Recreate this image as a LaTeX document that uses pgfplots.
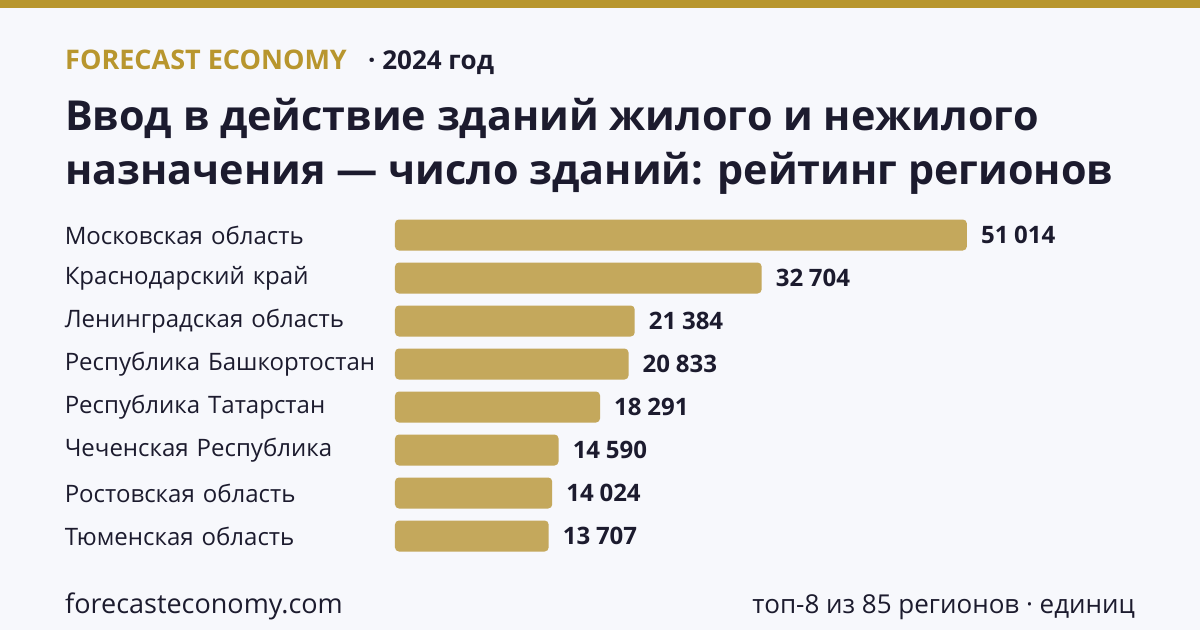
\documentclass[border=0pt]{standalone}
\usepackage{pgfplots}
\pgfplotsset{compat=1.18}
\usepackage{fontspec}
\setmainfont{Open Sans}
\definecolor{bg}{HTML}{F7F8FC}
\definecolor{gold}{HTML}{B8962E}
\definecolor{barc}{HTML}{C4A85C}
\definecolor{ink}{HTML}{1C1B2E}

\begin{document}
\begin{tikzpicture}[x=1pt,y=1pt]
\fill[bg] (0,0) rectangle (1200,630);
\useasboundingbox (0,0) rectangle (1200,630);
\fill[gold] (0,622) rectangle (1200,630);

% header
\node[anchor=base west, inner sep=0, text=gold, font=\fontsize{27}{32}\selectfont\bfseries] at (65,560) {FORECAST ECONOMY};
\node[anchor=base west, inner sep=0, text=ink, font=\fontsize{26}{32}\selectfont\bfseries] at (368,560) {· 2024 год};

% title
\node[anchor=base west, inner sep=0, text=ink, font=\fontsize{41.3}{50}\selectfont\bfseries] at (65,499) {Ввод в действие зданий жилого и нежилого};
\node[anchor=base west, inner sep=0, text=ink, font=\fontsize{41.3}{50}\selectfont\bfseries] at (65,445) {назначения — число зданий: рейтинг регионов};

% footer
\node[anchor=base west, inner sep=0, text=ink, font=\fontsize{27}{30}\selectfont] at (65,17) {forecasteconomy.com};
\node[anchor=base east, inner sep=0, text=ink, font=\fontsize{26}{30}\selectfont] at (1135,17) {топ-8 из 85 регионов · единиц};

\begin{axis}[
  at={(395pt,72.5pt)}, anchor=south west,
  scale only axis, width=672.6pt, height=344pt,
  xmin=0, xmax=60000, ymin=-0.5, ymax=7.5,
  y dir=reverse,
  axis line style={draw=none}, tick style={draw=none},
  major tick length=0pt,
  xtick=\empty,
  ytick={0,...,7},
  yticklabels={Московская область, Краснодарский край, Ленинградская область, Республика Башкортостан, Республика Татарстан, Чеченская Республика, Ростовская область, Тюменская область},
  yticklabel style={anchor=east, text width=330pt, align=left, inner sep=0pt, text=ink, font=\fontsize{24}{28}\selectfont},
  xbar, bar width=31pt,
  /pgf/number format/assume math mode=true,
  nodes near coords={\pgfmathprintnumber[fixed, precision=0, 1000 sep={\hspace{0.24em}}]{\pgfplotspointmeta}},
  nodes near coords style={anchor=west, inner sep=0pt, xshift=14pt, text=ink, font=\fontsize{24}{28}\selectfont\bfseries},
  clip=false,
]
\addplot[fill=barc, draw=none, rounded corners=4pt] coordinates {
  (51014,0) (32704,1) (21384,2) (20833,3) (18291,4) (14590,5) (14024,6) (13707,7)
};
\end{axis}
\end{tikzpicture}
\end{document}
